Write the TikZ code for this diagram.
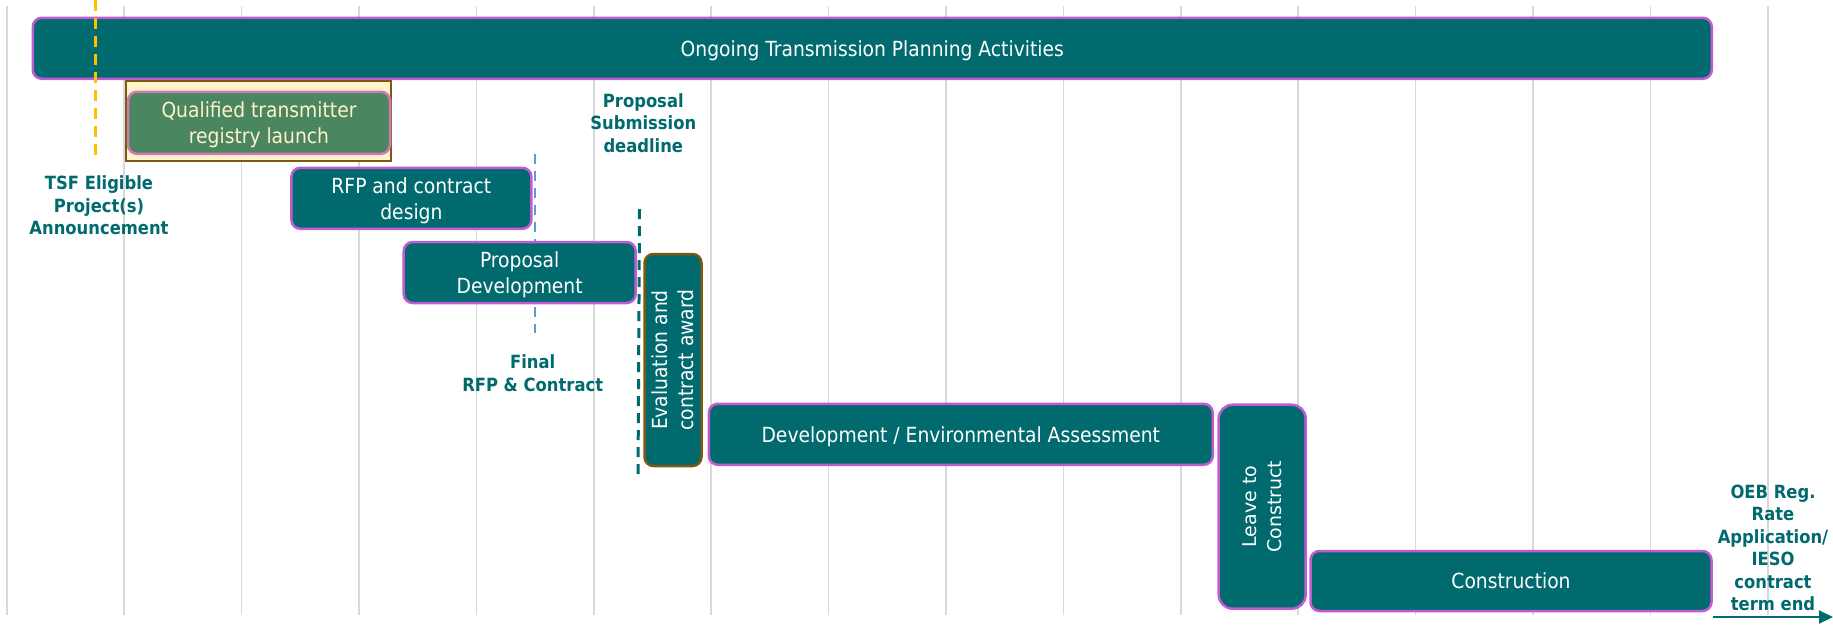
\documentclass[tikz,border=0pt]{standalone}
\usepackage{fontspec}
\setmainfont{DejaVu Sans Condensed}
\newfontfamily\labelfont{DejaVu Sans}
\usetikzlibrary{arrows.meta}
\definecolor{ieso}{HTML}{006A6E}
\definecolor{edge}{HTML}{C15BD3}
\definecolor{frame}{HTML}{7A5A10}
\definecolor{cream}{HTML}{FFF2CC}
\definecolor{registry}{HTML}{4A8660}
\definecolor{pinkedge}{HTML}{D27AAE}
\definecolor{tsfgold}{HTML}{FFC000}
\definecolor{rfpblue}{HTML}{5B9BD5}
\begin{document}
\begin{tikzpicture}[x=1pt, y=-1pt,
	phase/.style={draw=edge, line width=2.5pt, fill=ieso, text=white, rounded corners=9pt,
		inner sep=0pt, outer sep=0pt, align=center, text depth=0pt, font=\fontsize{20.8}{26}\selectfont},
	milestone/.style={text=ieso, align=center, inner sep=0pt,
		font=\bfseries\fontsize{18.2}{22.5}\selectfont},
	gridline/.style={draw=black!15, line width=1.5pt}]
	\useasboundingbox (0,0) rectangle (1833,625);
	\foreach \i in {0,...,15}
		\draw [gridline] (6.8+117.4*\i, 6) -- ++(0,609);
	% long running bar
	\node [phase, minimum width=1679pt, minimum height=61pt] (ongoing) at (872.3,48.3) {Ongoing Transmission Planning Activities};
	\coordinate (tsftop) at (95.7,0);
	\coordinate (tsfbot) at (95.7,159);
	\draw [tsfgold, line width=2.5pt, dash pattern=on 11pt off 7pt] (tsftop) -- (tsfbot);
	\node [milestone] (tsf) at (99,205.5) {TSF Eligible\\Project(s)\\Announcement};
	% registry launch
	\node [draw=frame, fill=cream, line width=2.5pt, minimum width=265pt, minimum height=80pt, outer sep=0pt] (frame) at (258.5,121) {};
	\node [phase, draw=pinkedge, fill=registry, text=cream, minimum width=262pt, minimum height=62pt] (registry) at (259,122.8) {Qualified transmitter\\registry launch};
	% final rfp
	\coordinate (rfptop) at (535,154);
	\coordinate (rfpbot) at (535,333);
	\draw [rfpblue, line width=2.5pt, dash pattern=on 10pt off 7pt] (rfptop) -- (rfpbot);
	\node [phase, minimum width=240pt, minimum height=61pt] (rfp) at (411.4,198.3) {RFP and contract\\design};
	\node [milestone] (final) at (532.7,373) {Final\\RFP \& Contract};
	% submission deadline
	\coordinate (subtop) at (639.5,209);
	\coordinate (subbot) at (638,479);
	\draw [ieso, line width=3pt, dash pattern=on 10pt off 7pt] (subtop) -- (subbot);
	\node [phase, minimum width=232pt, minimum height=61pt] (proposal) at (519.7,272.5) {Proposal\\Development};
	\node [milestone] (submission) at (643.3,123) {Proposal\\Submission\\deadline};
	\node [phase, draw=frame, rotate=90, minimum width=212pt, minimum height=57pt] (evaluation) at (673,360) {Evaluation and\\contract award};
	% development and construction
	\node [phase, minimum width=504pt, minimum height=61pt] (development) at (960.8,434.3) {Development / Environmental Assessment};
	\node [phase, rotate=90, rounded corners=14pt, minimum width=204pt, minimum height=87pt,
		font=\labelfont\fontsize{19}{25.7}\selectfont] (leave) at (1262.2,506.7) {Leave to\\Construct};
	\node [phase, minimum width=401pt, minimum height=60pt] (construction) at (1511,581) {Construction};
	\node [milestone] (oeb) at (1773,548) {OEB Reg.\\Rate\\Application/\\IESO\\contract\\term end};
	\coordinate (endstart) at (1713,617);
	\coordinate (endtip) at (1833,617);
	\draw [-{Triangle[length=14pt, width=13pt]}, ieso, line width=2pt] (endstart) -- (endtip);
\end{tikzpicture}
\end{document}
